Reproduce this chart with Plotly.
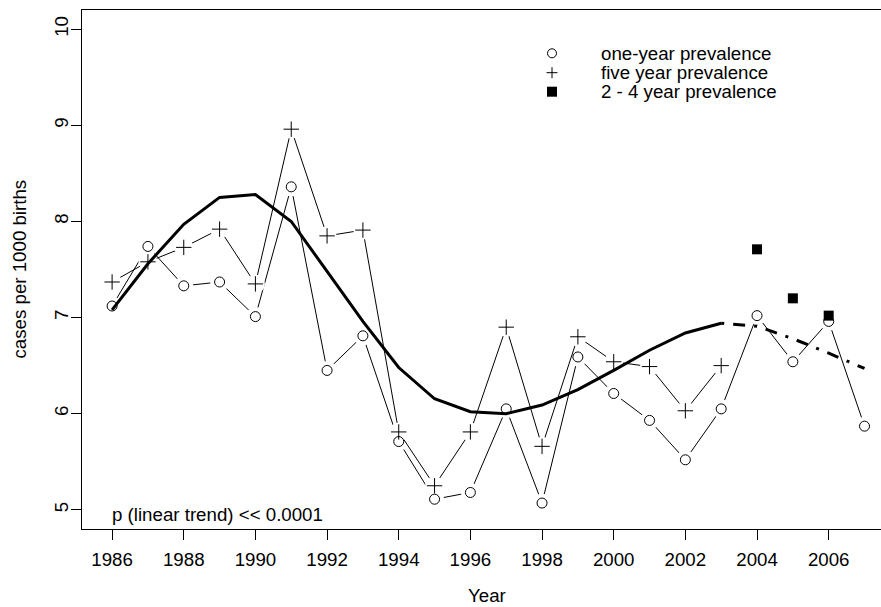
import plotly.graph_objects as go

years = list(range(1986, 2008))
one_year = [7.12, 7.74, 7.33, 7.37, 7.01, 8.36, 6.45, 6.81, 5.71, 5.11, 5.18,
            6.05, 5.07, 6.59, 6.21, 5.93, 5.52, 6.05, 7.02, 6.54, 6.96, 5.87]
five_years = list(range(1986, 2004))
five_year = [7.37, 7.58, 7.73, 7.92, 7.35, 8.96, 7.85, 7.91, 5.81, 5.25, 5.81,
             6.90, 5.66, 6.80, 6.54, 6.49, 6.03, 6.50]
mid_years = [2004, 2005, 2006]
two_four = [7.71, 7.20, 7.02]
trend_years = list(range(1986, 2004))
trend = [7.08, 7.56, 7.97, 8.25, 8.28, 8.00, 7.48, 6.96, 6.48, 6.155, 6.02,
         6.00, 6.09, 6.25, 6.45, 6.66, 6.84, 6.94]
fc_years = [2003, 2004, 2005, 2006, 2007]
forecast = [6.94, 6.91, 6.78, 6.63, 6.47]
x_ticks = list(range(1986, 2007, 2))
y_ticks = [5, 6, 7, 8, 9, 10]
legend_labels = ["one-year prevalence", "five year prevalence", "2 - 4 year prevalence"]

FONT = "Liberation Sans, Arial, Helvetica, sans-serif"
FS = 18.7
BLACK = "black"

fig = go.Figure()
# thin connecting lines with white halos around points (R type="b" gaps)
fig.add_trace(go.Scatter(x=years, y=one_year, mode="lines",
                         line=dict(color=BLACK, width=1), showlegend=False, hoverinfo="skip"))
fig.add_trace(go.Scatter(x=years, y=one_year, mode="markers",
                         marker=dict(symbol="circle", size=19, color="white", line=dict(width=0)),
                         showlegend=False, hoverinfo="skip"))
fig.add_trace(go.Scatter(x=five_years, y=five_year, mode="lines",
                         line=dict(color=BLACK, width=1), showlegend=False, hoverinfo="skip"))
fig.add_trace(go.Scatter(x=five_years, y=five_year, mode="markers",
                         marker=dict(symbol="circle", size=19, color="white", line=dict(width=0)),
                         showlegend=False, hoverinfo="skip"))
# point markers
fig.add_trace(go.Scatter(x=years, y=one_year, mode="markers", name=legend_labels[0],
                         marker=dict(symbol="circle", size=10, color="white",
                                     line=dict(color=BLACK, width=1)), showlegend=False))
fig.add_trace(go.Scatter(x=five_years, y=five_year, mode="markers", name=legend_labels[1],
                         marker=dict(symbol="cross-thin", size=11, color=BLACK,
                                     line=dict(color=BLACK, width=1)), showlegend=False))
fig.add_trace(go.Scatter(x=mid_years, y=two_four, mode="markers", name=legend_labels[2],
                         marker=dict(symbol="square", size=10, color=BLACK,
                                     line=dict(color=BLACK, width=0)), showlegend=False))
# trend curve
fig.add_trace(go.Scatter(x=trend_years, y=trend, mode="lines",
                         line=dict(color=BLACK, width=3), showlegend=False, hoverinfo="skip"))
fig.add_trace(go.Scatter(x=fc_years, y=forecast, mode="lines",
                         line=dict(color=BLACK, width=3, dash="3px,9px,12px,9px"),
                         showlegend=False, hoverinfo="skip"))

L, T, W, H = 82, 10, 799, 519

def px_x(p):
    return (p - L) / W

def px_y(p):
    return (T + H - p) / H

# legend built from annotations and keys
lx = px_x(552)
tx = px_x(599)
rows = [px_y(53.3), px_y(72.7), px_y(91.7)]
shapes = []
shapes.append(dict(type="circle", xref="paper", yref="paper", xsizemode="pixel", ysizemode="pixel",
                   xanchor=lx, yanchor=rows[0], x0=-4.5, x1=4.5, y0=-4.5, y1=4.5,
                   line=dict(color=BLACK, width=1), fillcolor="white"))
shapes.append(dict(type="path", xref="paper", yref="paper", xsizemode="pixel", ysizemode="pixel",
                   xanchor=lx, yanchor=rows[1], path="M-5.5,0 L5.5,0 M0,-5.5 L0,5.5",
                   line=dict(color=BLACK, width=1)))
shapes.append(dict(type="rect", xref="paper", yref="paper", xsizemode="pixel", ysizemode="pixel",
                   xanchor=lx, yanchor=rows[2], x0=-5, x1=5, y0=-5, y1=5,
                   line=dict(color=BLACK, width=0), fillcolor=BLACK))

annotations = []
for lab, ry in zip(legend_labels, rows):
    annotations.append(dict(text=lab, xref="paper", yref="paper", x=tx, y=ry,
                            xanchor="left", yanchor="middle", showarrow=False,
                            font=dict(family=FONT, size=FS, color=BLACK)))
annotations.append(dict(text="p (linear trend) << 0.0001", xref="x", yref="paper",
                        x=1986, y=px_y(514), xanchor="left", yanchor="middle", showarrow=False,
                        xshift=-2, font=dict(family=FONT, size=FS, color=BLACK)))
annotations.append(dict(text="Year", xref="paper", yref="paper", x=px_x(487), y=px_y(595.5),
                        xanchor="center", yanchor="middle", showarrow=False,
                        font=dict(family=FONT, size=FS, color=BLACK)))
annotations.append(dict(text="cases per 1000 births", xref="paper", yref="paper", x=px_x(19),
                        y=0.5, xanchor="center", yanchor="middle", showarrow=False, textangle=-90,
                        font=dict(family=FONT, size=FS, color=BLACK)))

fig.update_layout(
    width=881, height=607,
    margin=dict(l=L, r=881 - L - W, t=T, b=607 - T - H, pad=0),
    paper_bgcolor="white", plot_bgcolor="white",
    font=dict(family=FONT, size=FS, color=BLACK),
    showlegend=False,
    shapes=shapes,
    annotations=annotations,
    xaxis=dict(range=[1985.16, 2007.46], tickvals=x_ticks, ticktext=[str(v) for v in x_ticks],
               ticks="outside", ticklen=10, tickwidth=1, tickcolor=BLACK,
               showline=True, linecolor=BLACK, linewidth=1, mirror=True,
               showgrid=False, zeroline=False, ticklabelstandoff=4,
               tickfont=dict(family=FONT, size=FS, color=BLACK)),
    yaxis=dict(range=[4.8, 10.2], tickvals=y_ticks, ticktext=[str(v) for v in y_ticks],
               ticks="outside", ticklen=10, tickwidth=1, tickcolor=BLACK, tickangle=-90,
               showline=True, linecolor=BLACK, linewidth=1, mirror=False,
               showgrid=False, zeroline=False, ticklabelstandoff=-4,
               tickfont=dict(family=FONT, size=FS, color=BLACK)),
)

fig.write_html("out.html")
